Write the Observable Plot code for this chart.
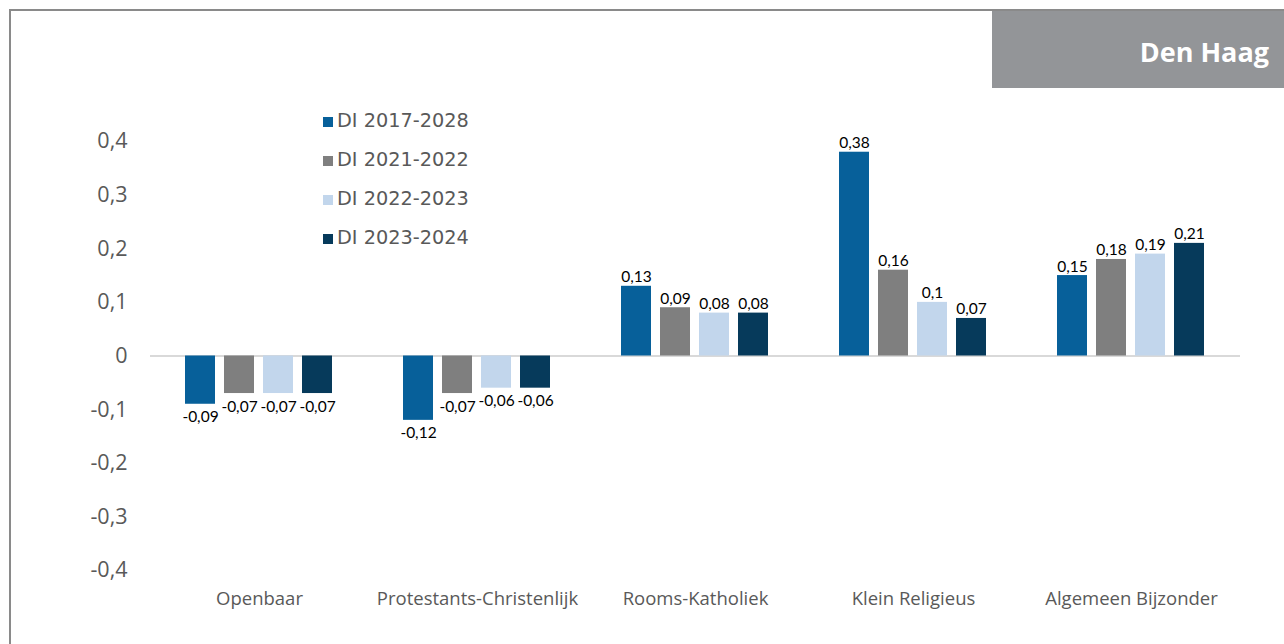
<!DOCTYPE html>
<html>
<head>
<meta charset="utf-8">
<script src="https://cdn.jsdelivr.net/npm/d3@7"></script>
<script src="https://cdn.jsdelivr.net/npm/@observablehq/plot@0.6"></script>
<style>
  html, body { margin: 0; padding: 0; background: #fff; }
  #wrap { position: relative; width: 1284px; height: 644px; overflow: hidden; }
  #frame { position: absolute; left: 9px; top: 9px; width: 1300px; height: 700px;
           border-top: 2px solid #8a8a8a; border-left: 2px solid #8a8a8a; box-sizing: border-box; }
  #title { position: absolute; left: 992px; top: 11px; width: 292px; height: 77px; background: #939598;
           color: #fff; font-family: "Open Sans", sans-serif; font-weight: 700; font-size: 27px;
           box-sizing: border-box; padding-right: 15px; text-align: right; line-height: 82px; }
  #chart { position: absolute; left: 0; top: 0; }
  #legend { position: absolute; left: 323px; top: 107px; font-family: "DejaVu Sans", Verdana, sans-serif;
            font-size: 19.3px; color: #595959; }
  .item { height: 39px; display: flex; align-items: center; position: relative; top: -6px; }
  .sw { width: 10px; height: 10px; margin-right: 4px; margin-top: 3px; }
</style>
</head>
<body>
<div id="wrap">
  <div id="frame"></div>
  <div id="chart"></div>
  <div id="title">Den Haag</div>
  <div id="legend"></div>
</div>
<script>
const categories = ["Openbaar", "Protestants-Christenlijk", "Rooms-Katholiek", "Klein Religieus", "Algemeen Bijzonder"];
const series = ["DI 2017-2028", "DI 2021-2022", "DI 2022-2023", "DI 2023-2024"];
const di20172028 = [-0.09, -0.12, 0.13, 0.38, 0.15];
const di20212022 = [-0.07, -0.07, 0.09, 0.16, 0.18];
const di20222023 = [-0.07, -0.06, 0.08, 0.10, 0.19];
const di20232024 = [-0.07, -0.06, 0.08, 0.07, 0.21];
const yTicks = [-0.4, -0.3, -0.2, -0.1, 0, 0.1, 0.2, 0.3, 0.4];
const colors = ["#07609a", "#7f7f7f", "#c2d6ec", "#063a5b"];

const seriesValues = [di20172028, di20212022, di20222023, di20232024];
const data = [];
categories.forEach((c, i) => {
  series.forEach((s, j) => data.push({category: c, series: s, value: seriesValues[j][i]}));
});
const fmt = v => String(v).replace(".", ",");

const plot = Plot.plot({
  width: 1284,
  height: 644,
  marginTop: 141,
  marginBottom: 74,
  marginLeft: 150,
  marginRight: 44,
  style: {fontFamily: "'Open Sans', sans-serif", background: "transparent"},
  fx: {domain: categories, padding: 0, label: null},
  x: {domain: series, paddingInner: 0.225, paddingOuter: 0.84, axis: null},
  y: {domain: [-0.4, 0.4], axis: null},
  color: {domain: series, range: colors},
  marks: [
    Plot.ruleY([0], {stroke: "#d9d9d9", strokeWidth: 2}),
    Plot.barY(data, {fx: "category", x: "series", y: "value", fill: "series"}),
    Plot.text(data.filter(d => d.value >= 0), {fx: "category", x: "series", y: "value", text: d => fmt(d.value),
      lineAnchor: "bottom", dy: -4, fontSize: 15.5, fill: "#000", fontFamily: "Lato, sans-serif"}),
    Plot.text(data.filter(d => d.value < 0), {fx: "category", x: "series", y: "value", text: d => fmt(d.value),
      lineAnchor: "top", dy: 7, fontSize: 15.5, fill: "#000", fontFamily: "Lato, sans-serif"}),
    Plot.axisY({ticks: yTicks, tickFormat: fmt, tickSize: 0, tickPadding: 23, fontSize: 21.5, fill: "#595959", label: null}),
    Plot.axisFx({anchor: "bottom", tickSize: 0, tickPadding: 21, fontSize: 18.5, fill: "#595959", label: null})
  ]
});
document.getElementById("chart").appendChild(plot);

const legend = document.getElementById("legend");
series.forEach((s, i) => {
  const it = document.createElement("div");
  it.className = "item";
  const sw = document.createElement("div");
  sw.className = "sw";
  sw.style.background = colors[i];
  it.appendChild(sw);
  it.appendChild(document.createTextNode(s));
  legend.appendChild(it);
});
</script>
</body>
</html>
